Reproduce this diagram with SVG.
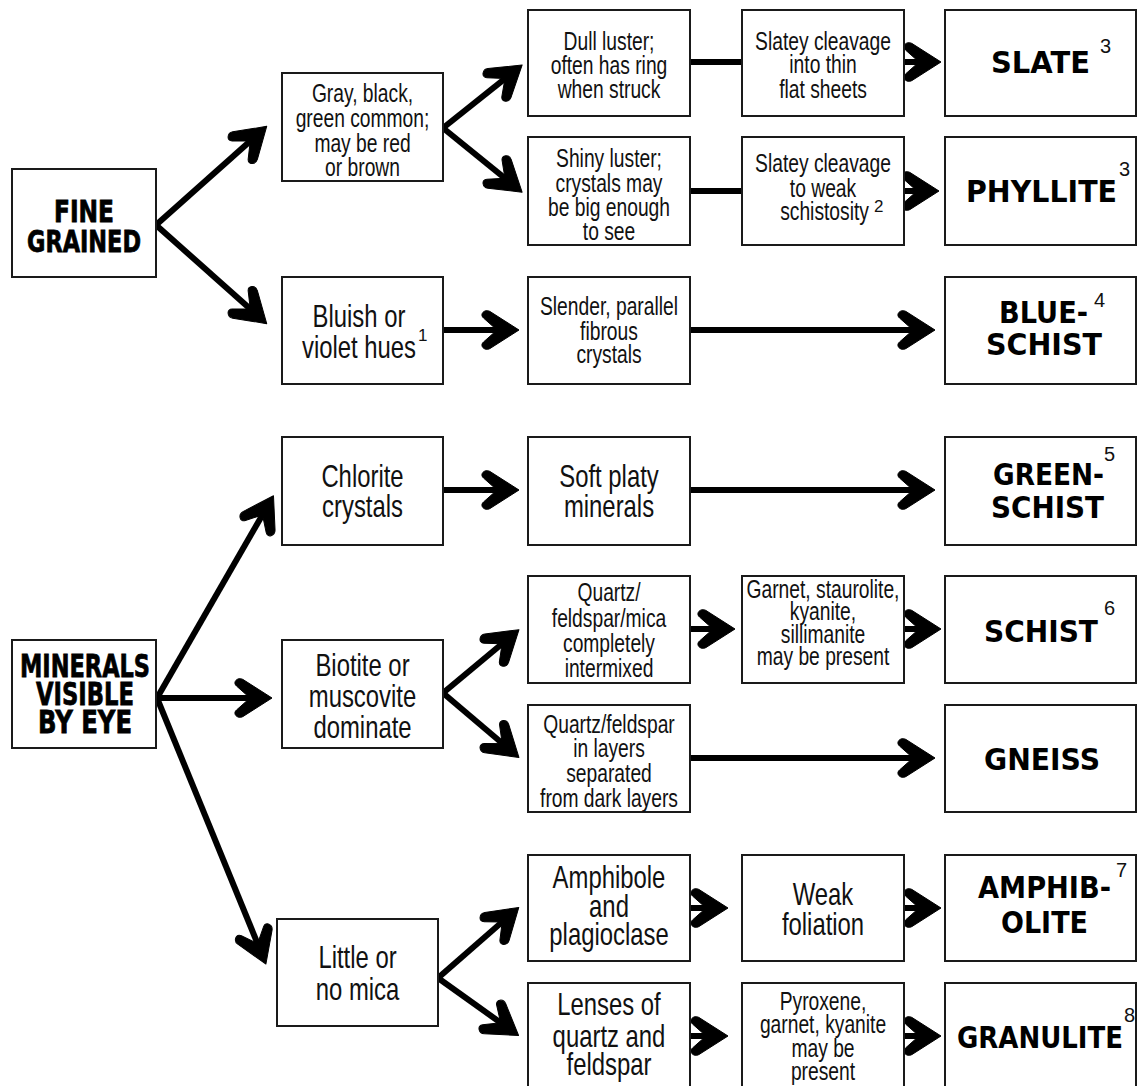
<svg xmlns="http://www.w3.org/2000/svg" width="1137" height="1086" viewBox="0 0 1137 1086">
  <style>
    .box { fill: #fff; stroke: #1a1a1a; stroke-width: 2; }
    .t { font-family: "Liberation Sans", Arial, sans-serif; fill: #111; text-anchor: middle; }
    .s { font-size: 25px; }
    .m { font-size: 31px; }
    .sup { font-family: "Liberation Sans", Arial, sans-serif; font-size: 17px; fill: #111; }
    .rsup { font-family: "Liberation Sans", Arial, sans-serif; font-size: 20px; fill: #111; }
    .head { font-family: "DejaVu Sans", "Liberation Sans", sans-serif; font-weight: bold; fill: #000; stroke: #000; stroke-width: 0.8; }
    .rock { font-family: "DejaVu Sans", "Liberation Sans", sans-serif; font-weight: bold; font-size: 30px; fill: #000; }
    .ln { stroke: #000; stroke-width: 6; fill: none; }
    .arr { stroke: #000; stroke-width: 6; fill: none; marker-end: url(#ah); }
  </style>
  <defs>
    <marker id="ah" markerUnits="userSpaceOnUse" orient="auto" refX="-12" refY="0" markerWidth="60" markerHeight="50" viewBox="-40 -25 60 50" overflow="visible">
      <path d="M1,0 L-28,-18.5 C-33,-21.5 -39,-16 -34.5,-12 L-21,0 L-34.5,12 C-39,16 -33,21.5 -28,18.5 Z" fill="#000" stroke="#000" stroke-width="1" stroke-linejoin="round"/>
    </marker>
  </defs>
  <rect width="1137" height="1086" fill="#fff"/>

  <!-- connectors -->
  <g id="connectors">
    <!-- fine grained branch -->
    <line class="arr" x1="156" y1="225" x2="257" y2="135"/>
    <line class="arr" x1="156" y1="225" x2="257" y2="315"/>
    <line class="arr" x1="443" y1="128" x2="512" y2="73"/>
    <line class="arr" x1="443" y1="128" x2="512" y2="184"/>
    <line class="ln" x1="690" y1="62" x2="742" y2="62"/>
    <line class="ln" x1="690" y1="191" x2="742" y2="191"/>
    <line class="arr" x1="904" y1="62" x2="928" y2="62"/>
    <line class="arr" x1="904" y1="191" x2="926" y2="191"/>
    <line class="arr" x1="443" y1="330" x2="506" y2="330"/>
    <line class="arr" x1="690" y1="330" x2="922" y2="330"/>
    <!-- visible minerals branch -->
    <line class="arr" x1="157" y1="698" x2="267" y2="507"/>
    <line class="arr" x1="157" y1="698" x2="259" y2="698"/>
    <line class="arr" x1="157" y1="698" x2="261" y2="952"/>
    <line class="arr" x1="443" y1="490" x2="506" y2="490"/>
    <line class="arr" x1="690" y1="490" x2="922" y2="490"/>
    <line class="arr" x1="443" y1="693" x2="509" y2="638"/>
    <line class="arr" x1="443" y1="693" x2="509" y2="749"/>
    <line class="arr" x1="690" y1="629" x2="722" y2="629"/>
    <line class="arr" x1="904" y1="629" x2="928" y2="629"/>
    <line class="arr" x1="690" y1="758" x2="922" y2="758"/>
    <line class="arr" x1="438" y1="978" x2="509" y2="916"/>
    <line class="arr" x1="438" y1="978" x2="508" y2="1028"/>
    <line class="arr" x1="690" y1="908" x2="715" y2="908"/>
    <line class="arr" x1="904" y1="908" x2="928" y2="908"/>
    <line class="arr" x1="690" y1="1036" x2="715" y2="1036"/>
    <line class="arr" x1="904" y1="1036" x2="928" y2="1036"/>
  </g>

  <!-- starting categories -->
  <g id="fine-grained">
    <rect class="box" x="12" y="169" width="144" height="108"/>
    <text class="head" font-size="30" x="84" y="222" text-anchor="middle" textLength="60" lengthAdjust="spacingAndGlyphs">FINE</text>
    <text class="head" font-size="30" x="84" y="252" text-anchor="middle" textLength="114" lengthAdjust="spacingAndGlyphs">GRAINED</text>
  </g>
  <g id="minerals-visible">
    <rect class="box" x="12" y="640" width="144" height="108"/>
    <text class="head" font-size="32" x="85" y="677" text-anchor="middle" textLength="130" lengthAdjust="spacingAndGlyphs">MINERALS</text>
    <text class="head" font-size="32" x="85" y="705" text-anchor="middle" textLength="98" lengthAdjust="spacingAndGlyphs">VISIBLE</text>
    <text class="head" font-size="32" x="85" y="733" text-anchor="middle" textLength="94" lengthAdjust="spacingAndGlyphs">BY EYE</text>
  </g>

  <!-- first column -->
  <g id="gray-black">
    <rect class="box" x="282" y="73" width="161" height="108"/>
    <g transform="translate(362.5 0) scale(0.77 1)">
      <text class="t s" x="0" y="102">Gray, black,</text>
      <text class="t s" x="0" y="127">green common;</text>
      <text class="t s" x="0" y="152">may be red</text>
      <text class="t s" x="0" y="176">or brown</text>
    </g>
  </g>
  <g id="bluish">
    <rect class="box" x="282" y="277" width="161" height="107"/>
    <g transform="translate(359 0) scale(0.77 1)">
      <text class="t m" x="0" y="327">Bluish or</text>
      <text class="t m" x="0" y="358">violet hues</text>
    </g>
    <text class="sup" x="418" y="341">1</text>
  </g>
  <g id="chlorite">
    <rect class="box" x="282" y="437" width="161" height="108"/>
    <g transform="translate(362.5 0) scale(0.77 1)">
      <text class="t m" x="0" y="487">Chlorite</text>
      <text class="t m" x="0" y="517">crystals</text>
    </g>
  </g>
  <g id="biotite">
    <rect class="box" x="282" y="640" width="161" height="108"/>
    <g transform="translate(362.5 0) scale(0.77 1)">
      <text class="t m" x="0" y="676">Biotite or</text>
      <text class="t m" x="0" y="707">muscovite</text>
      <text class="t m" x="0" y="738">dominate</text>
    </g>
  </g>
  <g id="little-mica">
    <rect class="box" x="277" y="919" width="161" height="107"/>
    <g transform="translate(357.5 0) scale(0.77 1)">
      <text class="t m" x="0" y="968">Little or</text>
      <text class="t m" x="0" y="1000">no mica</text>
    </g>
  </g>

  <!-- second column -->
  <g id="dull-luster">
    <rect class="box" x="528" y="10" width="162" height="106"/>
    <g transform="translate(609 0) scale(0.77 1)">
      <text class="t s" x="0" y="50">Dull luster;</text>
      <text class="t s" x="0" y="74">often has ring</text>
      <text class="t s" x="0" y="98">when struck</text>
    </g>
  </g>
  <g id="shiny-luster">
    <rect class="box" x="528" y="137" width="162" height="108"/>
    <g transform="translate(609 0) scale(0.77 1)">
      <text class="t s" x="0" y="167">Shiny luster;</text>
      <text class="t s" x="0" y="192">crystals may</text>
      <text class="t s" x="0" y="216">be big enough</text>
      <text class="t s" x="0" y="240">to see</text>
    </g>
  </g>
  <g id="slender">
    <rect class="box" x="528" y="277" width="162" height="107"/>
    <g transform="translate(609 0) scale(0.77 1)">
      <text class="t s" x="0" y="315">Slender, parallel</text>
      <text class="t s" x="0" y="340">fibrous</text>
      <text class="t s" x="0" y="363">crystals</text>
    </g>
  </g>
  <g id="soft-platy">
    <rect class="box" x="528" y="437" width="162" height="108"/>
    <g transform="translate(609 0) scale(0.77 1)">
      <text class="t m" x="0" y="487">Soft platy</text>
      <text class="t m" x="0" y="517">minerals</text>
    </g>
  </g>
  <g id="quartz-mica">
    <rect class="box" x="528" y="576" width="162" height="107"/>
    <g transform="translate(609 0) scale(0.77 1)">
      <text class="t s" x="0" y="601">Quartz/</text>
      <text class="t s" x="0" y="627">feldspar/mica</text>
      <text class="t s" x="0" y="652">completely</text>
      <text class="t s" x="0" y="677">intermixed</text>
    </g>
  </g>
  <g id="quartz-layers">
    <rect class="box" x="528" y="705" width="162" height="107"/>
    <g transform="translate(609 0) scale(0.77 1)">
      <text class="t s" x="0" y="733">Quartz/feldspar</text>
      <text class="t s" x="0" y="757">in layers</text>
      <text class="t s" x="0" y="782">separated</text>
      <text class="t s" x="0" y="807">from dark layers</text>
    </g>
  </g>
  <g id="amphibole">
    <rect class="box" x="528" y="855" width="162" height="106"/>
    <g transform="translate(609 0) scale(0.77 1)">
      <text class="t m" x="0" y="888">Amphibole</text>
      <text class="t m" x="0" y="917">and</text>
      <text class="t m" x="0" y="945">plagioclase</text>
    </g>
  </g>
  <g id="lenses">
    <rect class="box" x="528" y="983" width="162" height="120"/>
    <g transform="translate(609 0) scale(0.77 1)">
      <text class="t m" x="0" y="1015">Lenses of</text>
      <text class="t m" x="0" y="1047">quartz and</text>
      <text class="t m" x="0" y="1075">feldspar</text>
    </g>
  </g>

  <!-- third column -->
  <g id="slatey-thin">
    <rect class="box" x="742" y="10" width="162" height="106"/>
    <g transform="translate(823 0) scale(0.77 1)">
      <text class="t s" x="0" y="50">Slatey cleavage</text>
      <text class="t s" x="0" y="73">into thin</text>
      <text class="t s" x="0" y="98">flat sheets</text>
    </g>
  </g>
  <g id="slatey-weak">
    <rect class="box" x="742" y="137" width="162" height="108"/>
    <g transform="translate(823 0) scale(0.77 1)">
      <text class="t s" x="0" y="172">Slatey cleavage</text>
      <text class="t s" x="0" y="197">to weak</text>
      <text class="t s" x="2" y="220">schistosity</text>
    </g>
    <text class="sup" x="874" y="212">2</text>
  </g>
  <g id="garnet">
    <rect class="box" x="742" y="576" width="162" height="107"/>
    <g transform="translate(823 0) scale(0.77 1)">
      <text class="t s" x="0" y="598">Garnet, staurolite,</text>
      <text class="t s" x="0" y="620">kyanite,</text>
      <text class="t s" x="0" y="643">sillimanite</text>
      <text class="t s" x="0" y="665">may be present</text>
    </g>
  </g>
  <g id="weak-foliation">
    <rect class="box" x="742" y="855" width="162" height="106"/>
    <g transform="translate(823 0) scale(0.77 1)">
      <text class="t m" x="0" y="905">Weak</text>
      <text class="t m" x="0" y="935">foliation</text>
    </g>
  </g>
  <g id="pyroxene">
    <rect class="box" x="742" y="983" width="162" height="120"/>
    <g transform="translate(823 0) scale(0.77 1)">
      <text class="t s" x="0" y="1010">Pyroxene,</text>
      <text class="t s" x="0" y="1033">garnet, kyanite</text>
      <text class="t s" x="0" y="1057">may be</text>
      <text class="t s" x="0" y="1080">present</text>
    </g>
  </g>

  <!-- rock names -->
  <g id="slate">
    <rect class="box" x="945" y="10" width="191" height="106"/>
    <text class="rock" x="991" y="73" textLength="99" lengthAdjust="spacingAndGlyphs">SLATE</text>
    <text class="rsup" x="1100" y="53">3</text>
  </g>
  <g id="phyllite">
    <rect class="box" x="945" y="137" width="191" height="108"/>
    <text class="rock" x="966" y="202" textLength="151" lengthAdjust="spacingAndGlyphs">PHYLLITE</text>
    <text class="rsup" x="1119" y="176">3</text>
  </g>
  <g id="blueschist">
    <rect class="box" x="945" y="277" width="191" height="107"/>
    <text class="rock" x="999" y="323" font-size="28" textLength="89" lengthAdjust="spacingAndGlyphs">BLUE-</text>
    <text class="rsup" x="1094" y="307">4</text>
    <text class="rock" x="986" y="355" textLength="116" lengthAdjust="spacingAndGlyphs">SCHIST</text>
  </g>
  <g id="greenschist">
    <rect class="box" x="945" y="437" width="191" height="108"/>
    <text class="rock" x="993" y="485" textLength="111" lengthAdjust="spacingAndGlyphs">GREEN-</text>
    <text class="rsup" x="1104" y="461">5</text>
    <text class="rock" x="991" y="518" textLength="113" lengthAdjust="spacingAndGlyphs">SCHIST</text>
  </g>
  <g id="schist">
    <rect class="box" x="945" y="576" width="191" height="107"/>
    <text class="rock" x="984" y="642" textLength="114" lengthAdjust="spacingAndGlyphs">SCHIST</text>
    <text class="rsup" x="1104" y="615">6</text>
  </g>
  <g id="gneiss">
    <rect class="box" x="945" y="705" width="191" height="107"/>
    <text class="rock" x="984" y="770" textLength="116" lengthAdjust="spacingAndGlyphs">GNEISS</text>
  </g>
  <g id="amphibolite">
    <rect class="box" x="945" y="855" width="191" height="106"/>
    <text class="rock" x="978" y="898" textLength="133" lengthAdjust="spacingAndGlyphs">AMPHIB-</text>
    <text class="rsup" x="1116" y="877">7</text>
    <text class="rock" x="1001" y="933" textLength="87" lengthAdjust="spacingAndGlyphs">OLITE</text>
  </g>
  <g id="granulite">
    <rect class="box" x="945" y="983" width="191" height="120"/>
    <text class="rock" transform="translate(957 1048) scale(0.866 1)" x="0" y="0" textLength="191.7" lengthAdjust="spacingAndGlyphs">GRANULITE</text>
    <text class="rsup" x="1124" y="1022">8</text>
  </g>
</svg>
